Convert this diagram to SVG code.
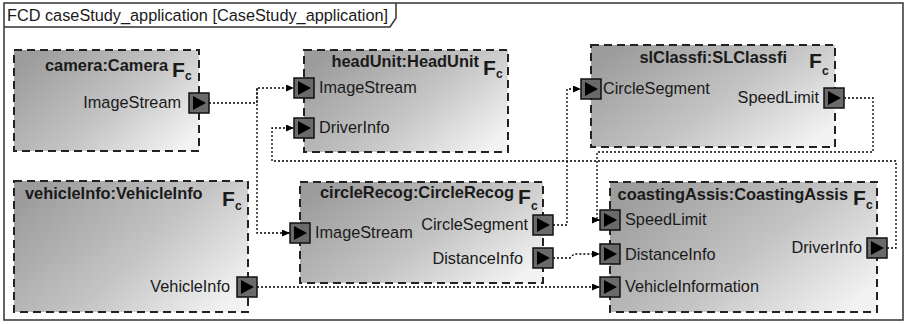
<svg xmlns="http://www.w3.org/2000/svg" width="907" height="324" viewBox="0 0 907 324">
<style>
text{font-family:"Liberation Sans",Arial,sans-serif;fill:#1a1a1a}
.t{font-size:16.4px;font-weight:bold}
.l{font-size:16.3px}
.F{font-size:21px;font-weight:bold}
.c{font-size:12px;font-weight:bold}
.e{text-anchor:end}
.box{fill:url(#g);stroke:#222;stroke-width:2;stroke-dasharray:8 5}
.port{fill:#6a6a6a;stroke:#111;stroke-width:1.5}
.tri{fill:#000}
.cn{fill:none;stroke:#000;stroke-width:1.3;stroke-dasharray:2 2;marker-end:url(#ah)}
</style>
<defs>
<linearGradient id="g" x1="0" y1="0.2" x2="1" y2="0.8">
<stop offset="0" stop-color="#9c9c9c"/>
<stop offset="0.55" stop-color="#c4c4c4"/>
<stop offset="1" stop-color="#f2f2f2"/>
</linearGradient>
<marker id="ah" markerUnits="userSpaceOnUse" markerWidth="8" markerHeight="7" refX="8" refY="3.5" orient="auto">
<path d="M0,0 L8,3.5 L0,7 z" fill="#000"/>
</marker>
<g id="p">
<rect class="port" x="-10" y="-10" width="20" height="20"/>
<path class="tri" d="M-6,-7 L7,0 L-6,7 z"/>
</g>
</defs>
<rect x="0" y="0" width="907" height="324" fill="#fff"/>
<g id="frame">
<rect x="4" y="3" width="899" height="317" fill="none" stroke="#333" stroke-width="1.5"/>
<path d="M4,27 H390 L396,18 V3" fill="none" stroke="#333" stroke-width="1.5"/>
<text class="l" x="7" y="21">FCD caseStudy_application [CaseStudy_application]</text>
</g>
<g id="connectors">
<path class="cn" d="M209,103 H257 V88 H294"/>
<path class="cn" d="M257,88 V233 H290"/>
<path class="cn" d="M887,248 H896 V161 H272 V128 H294"/>
<path class="cn" d="M844,98 H873 V152 H597 V220 H600"/>
<path class="cn" d="M553,225 H567 V89 H581"/>
<path class="cn" d="M553,258 H570 L574,254 H600"/>
<path class="cn" d="M257,287 H600"/>
</g>
<g id="camera">
<rect class="box" x="14" y="50" width="185" height="101"/>
<text class="t e" x="168" y="71">camera:Camera</text>
<text class="F" x="172" y="77">F</text><text class="c" x="185" y="80">c</text>
<text class="l e" x="181" y="108">ImageStream</text>
<use href="#p" x="199" y="103"/>
</g>
<g id="headUnit">
<rect class="box" x="304" y="50" width="204" height="102"/>
<text class="t e" x="479" y="67">headUnit:HeadUnit</text>
<text class="F" x="483" y="75">F</text><text class="c" x="496" y="78">c</text>
<text class="l" x="319" y="93">ImageStream</text>
<text class="l" x="319" y="133">DriverInfo</text>
<use href="#p" x="304" y="88"/>
<use href="#p" x="304" y="128"/>
</g>
<g id="slClassfi">
<rect class="box" x="591" y="45" width="244" height="102"/>
<text class="t e" x="787" y="63">slClassfi:SLClassfi</text>
<text class="F" x="809" y="68">F</text><text class="c" x="822" y="75">c</text>
<text class="l" x="603" y="94">CircleSegment</text>
<text class="l e" x="819" y="103">SpeedLimit</text>
<use href="#p" x="591" y="89"/>
<use href="#p" x="834" y="98"/>
</g>
<g id="vehicleInfo">
<rect class="box" x="14" y="181" width="234" height="131"/>
<text class="t" x="25" y="199">vehicleInfo:VehicleInfo</text>
<text class="F" x="222" y="206">F</text><text class="c" x="235" y="210">c</text>
<text class="l e" x="230" y="292">VehicleInfo</text>
<use href="#p" x="247" y="287"/>
</g>
<g id="circleRecog">
<rect class="box" x="300" y="182" width="243" height="101"/>
<text class="t e" x="514" y="198">circleRecog:CircleRecog</text>
<text class="F" x="518" y="204">F</text><text class="c" x="531" y="210">c</text>
<text class="l" x="315" y="238">ImageStream</text>
<text class="l e" x="528" y="230">CircleSegment</text>
<text class="l e" x="523" y="264">DistanceInfo</text>
<use href="#p" x="300" y="233"/>
<use href="#p" x="543" y="225"/>
<use href="#p" x="543" y="258"/>
</g>
<g id="coastingAssis">
<rect class="box" x="610" y="182" width="267" height="130"/>
<text class="t e" x="848" y="200">coastingAssis:CoastingAssis</text>
<text class="F" x="853" y="205">F</text><text class="c" x="866" y="209">c</text>
<text class="l" x="625" y="225">SpeedLimit</text>
<text class="l" x="625" y="260">DistanceInfo</text>
<text class="l" x="625" y="292">VehicleInformation</text>
<text class="l e" x="862" y="253">DriverInfo</text>
<use href="#p" x="610" y="220"/>
<use href="#p" x="610" y="254"/>
<use href="#p" x="610" y="287"/>
<use href="#p" x="877" y="248"/>
</g>
</svg>
